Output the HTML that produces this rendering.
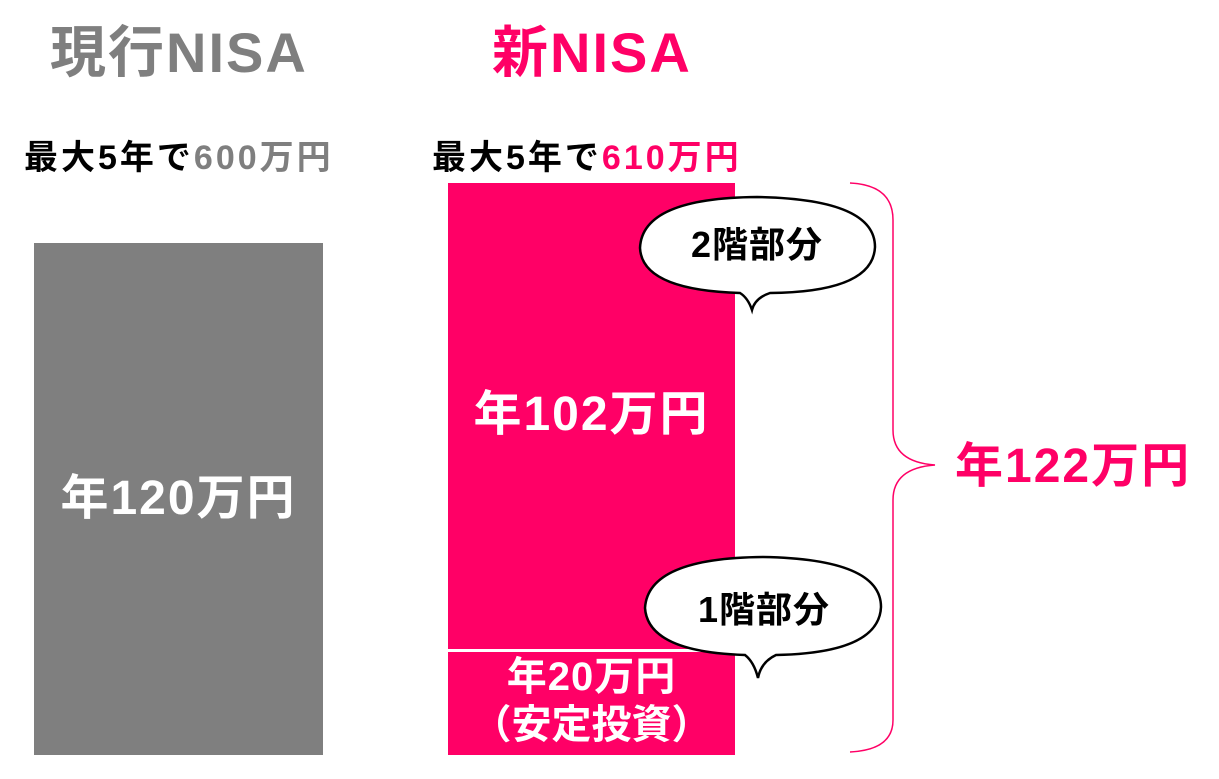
<!DOCTYPE html>
<html><head><meta charset="utf-8"><style>
body{margin:0;width:1219px;height:779px;background:#fff;position:relative;overflow:hidden;font-family:"Liberation Sans","Noto Sans CJK JP",sans-serif;font-weight:bold}
.t{position:absolute;white-space:nowrap;line-height:1}
</style></head><body>
<div class="t" style="left:50px;top:25px;font-size:56px;color:#7f7f7f;letter-spacing:2px">現行NISA</div>
<div class="t" style="left:492px;top:25px;font-size:56px;color:#ff0066;letter-spacing:2px">新NISA</div>
<div class="t" style="left:24px;top:141px;font-size:34px;color:#000;letter-spacing:3px">最大5年で<span style="color:#7f7f7f">600万円</span></div>
<div class="t" style="left:432px;top:141px;font-size:34px;color:#000;letter-spacing:3px">最大5年で<span style="color:#ff0066">610万円</span></div>
<div style="position:absolute;left:34px;top:243px;width:289px;height:512px;background:#7f7f7f"></div>
<div class="t" style="left:34px;width:289px;text-align:center;top:475px;font-size:48px;color:#fff;letter-spacing:2px">年120万円</div>
<div style="position:absolute;left:448px;top:183px;width:287px;height:466px;background:#ff0066"></div>
<div style="position:absolute;left:448px;top:652px;width:287px;height:103px;background:#ff0066"></div>
<div class="t" style="left:448px;width:287px;text-align:center;top:391px;font-size:48px;color:#fff;letter-spacing:2px">年102万円</div>
<div class="t" style="left:448px;width:287px;text-align:center;top:657px;font-size:40px;color:#fff;letter-spacing:1px">年20万円</div>
<div class="t" style="left:448px;width:287px;text-align:center;top:705px;font-size:40px;color:#fff;letter-spacing:0px">（安定投資）</div>
<svg style="position:absolute;left:0;top:0" width="1219" height="779">
<path d="M850 183 Q893 185 893 220 L893 430 Q893 462 935 465 Q893 468 893 500 L893 720 Q893 750 850 752" fill="none" stroke="#ff0066" stroke-width="1.5"/>
<path d="M740 293 Q642 290 640 248 Q642 198 757 197 Q875 199 875 247 Q873 292 770 293 Q755 298 752 310 Q748 298 740 293Z" fill="#fff" stroke="#000" stroke-width="2.5"/>
<path d="M745 655 Q648 652 645 608 Q648 558 763 557 Q881 559 881 607 Q879 653 776 655 Q761 662 758 678 Q754 662 745 655Z" fill="#fff" stroke="#000" stroke-width="2.5"/>
</svg>
<div class="t" style="left:691px;top:227px;font-size:36px;color:#000;letter-spacing:1px">2階部分</div>
<div class="t" style="left:698px;top:592px;font-size:36px;color:#000;letter-spacing:1px">1階部分</div>
<div class="t" style="left:955px;top:443px;font-size:48px;color:#ff0066;letter-spacing:2px">年122万円</div>
</body></html>
